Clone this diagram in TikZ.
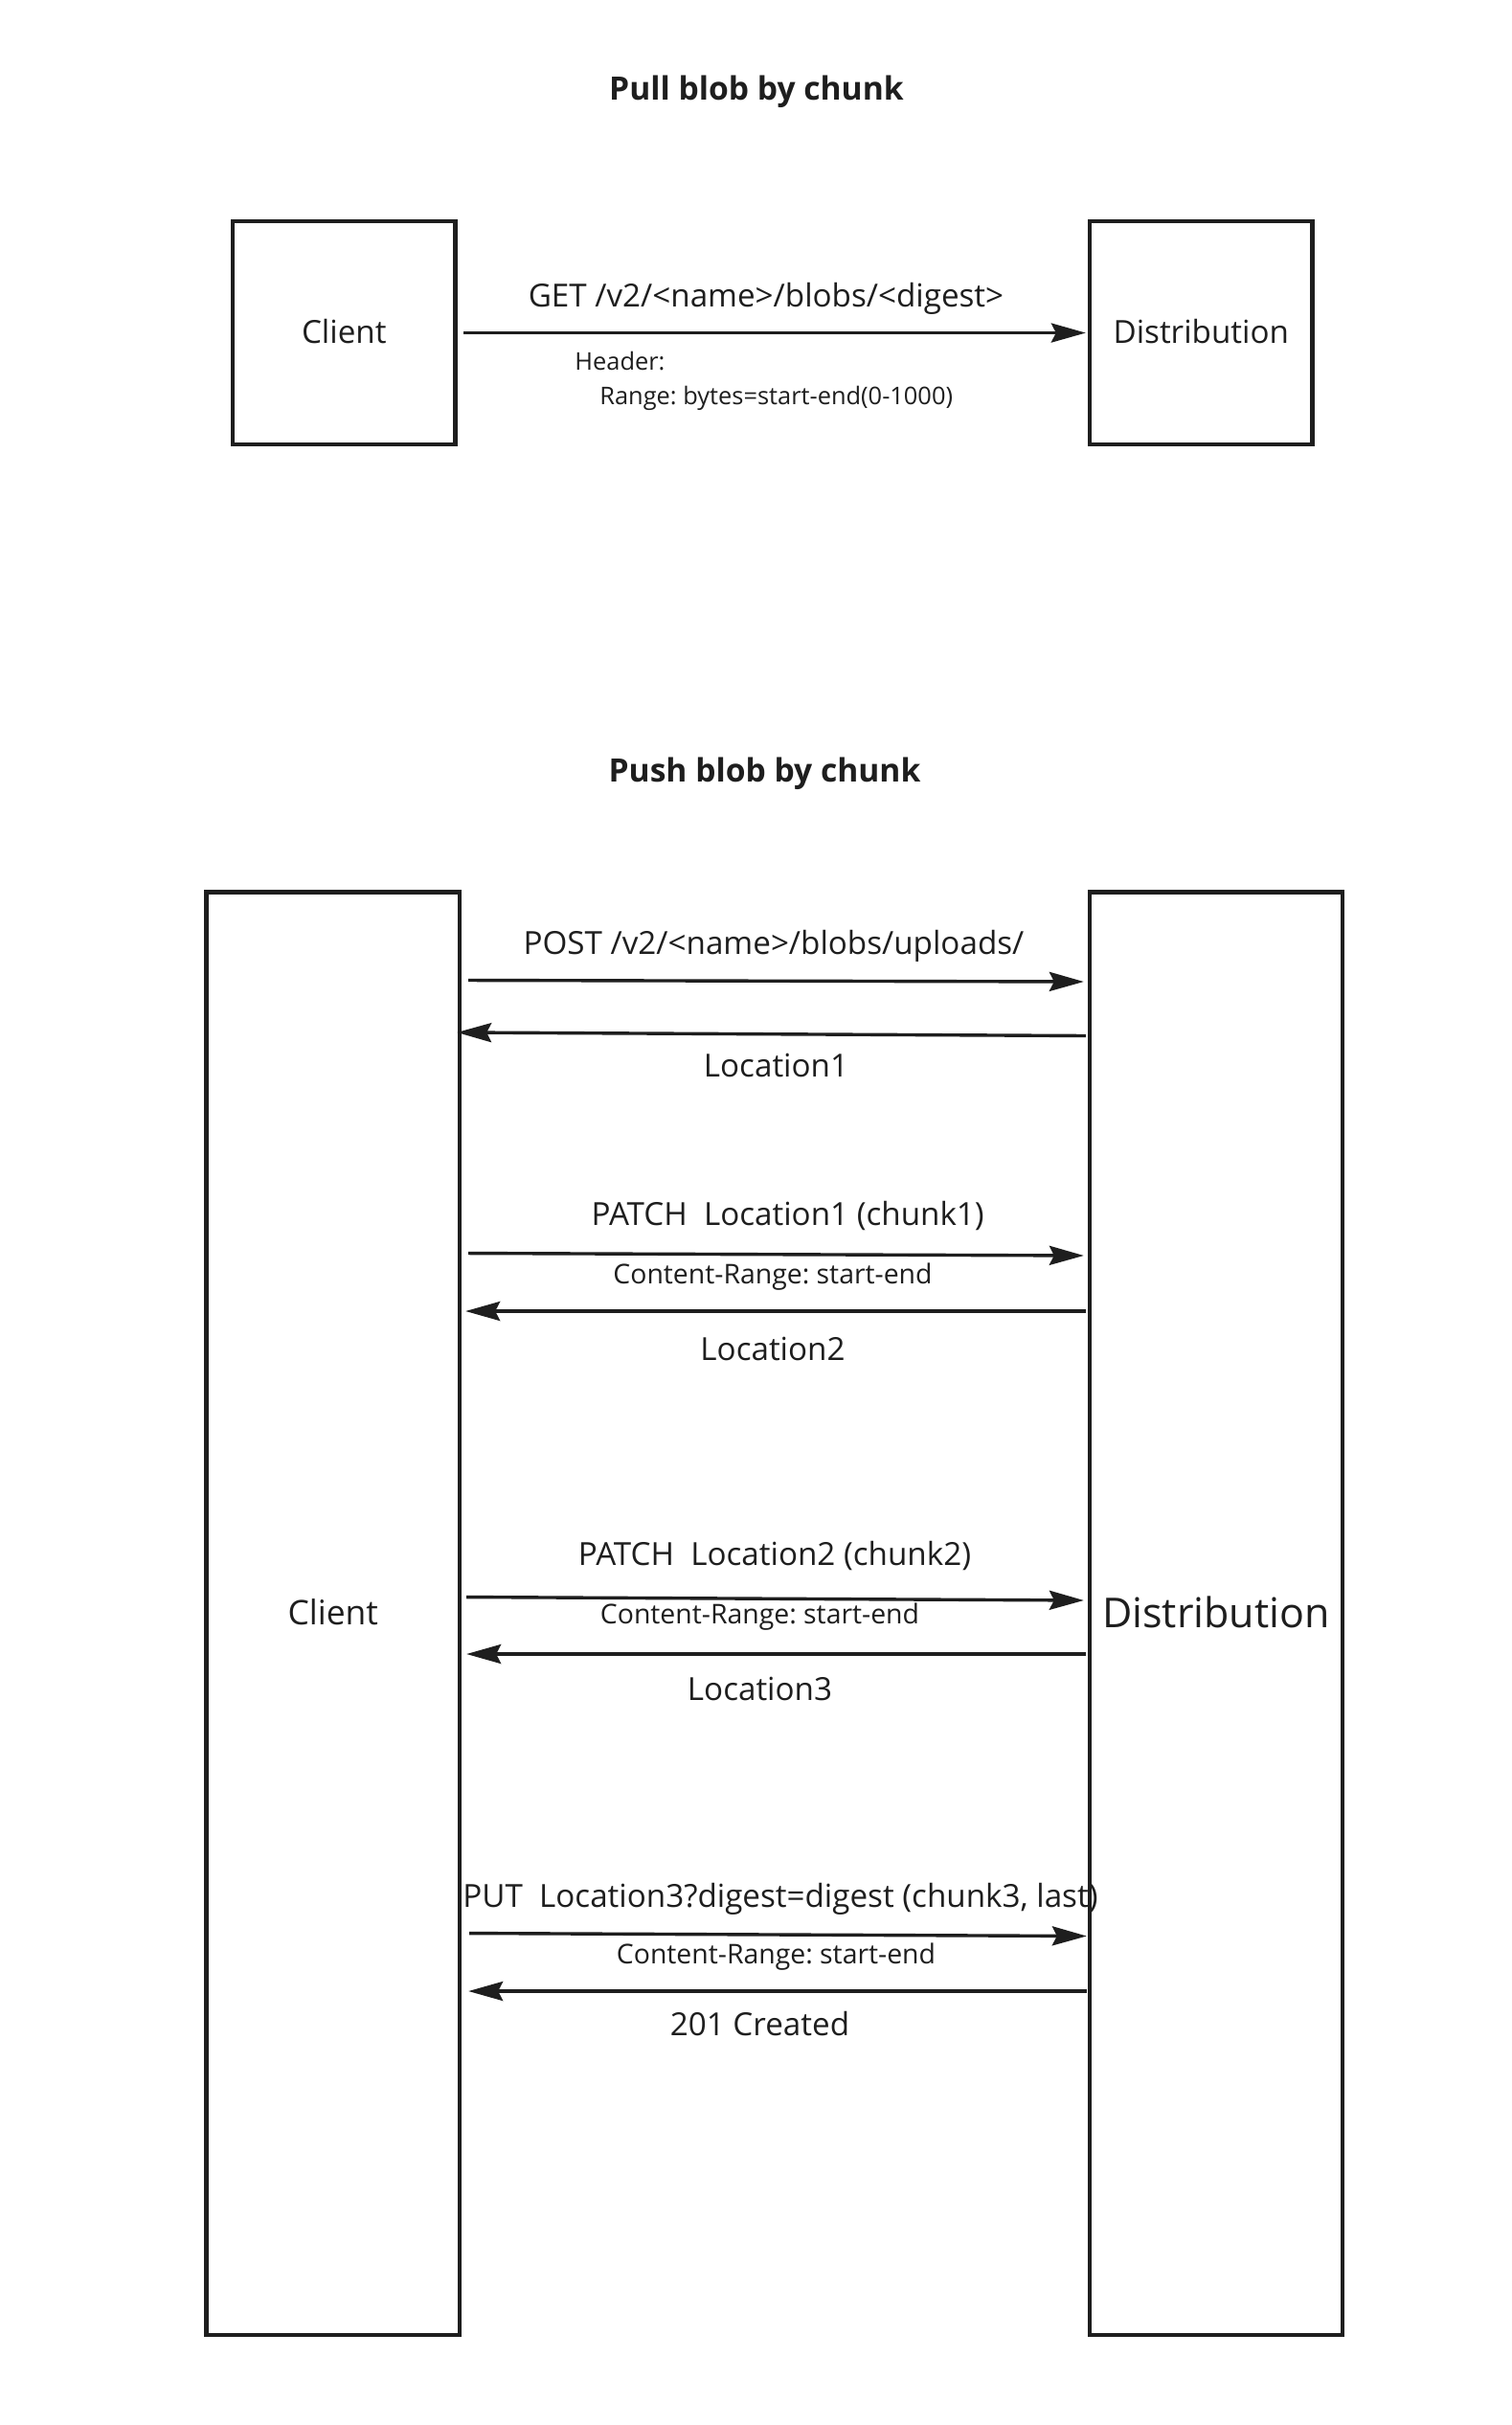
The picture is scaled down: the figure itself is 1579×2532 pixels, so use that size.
\documentclass[tikz,border=0pt]{standalone}
\usepackage{fontspec}
\setmainfont{Open Sans}
\usetikzlibrary{arrows.meta}
\definecolor{ink}{RGB}{30,30,30}
\frenchspacing
\begin{document}
\begin{tikzpicture}[x=0.5pt,y=-0.5pt,
  box/.style={draw=ink, line width=2.15pt, inner sep=0pt, text=ink, font=\fontsize{16.6pt}{19pt}\selectfont},
  arr/.style={draw=ink, line width=1.7pt, -{Stealth[length=18pt,width=10pt,inset=2.5pt]}},
  lbl/.style={text=ink, inner sep=0pt, anchor=base, font=\fontsize{16.6pt}{19pt}\selectfont},
  sml/.style={text=ink, inner sep=0pt, anchor=base, font=\fontsize{12.7pt}{15pt}\selectfont},
  crg/.style={text=ink, inner sep=0pt, anchor=base, font=\fontsize{14.2pt}{17pt}\selectfont},
  ttl/.style={text=ink, inner sep=0pt, anchor=base, font=\bfseries\fontsize{16.8pt}{20pt}\selectfont}]
\useasboundingbox[fill=white] (0,0) rectangle (1579,2532);

% titles
\node[ttl] (t1) at (790,104) {Pull blob by chunk};
\node[ttl] (t2) at (798.5,816.7) {Push blob by chunk};

% pull boxes
\node[box, minimum width=116.25pt, minimum height=116.25pt] (c1) at (359.25,347.55) {\raisebox{1.5pt}{Client}};
\node[box, minimum width=116.25pt, minimum height=116.25pt] (d1) at (1254.25,347.55) {\raisebox{1.5pt}{Distribution}};

\draw[arr, shorten <=3.25pt, shorten >=1pt] (c1.east) -- (d1.west);
\node[lbl] (l0) at (800,320) {GET /v2/<name>/blobs/<digest>};
\node[sml, anchor=base west] (h0) at (600,386.2) {Header:};
\node[sml, anchor=base west] (r0) at (626,422.5) {Range: bytes=start-end(0-1000)};

% push boxes
\node[box, minimum width=132.25pt, minimum height=753.05pt, font=\fontsize{17.7pt}{21pt}\selectfont] (c2) at (347.75,1684.65) {\raisebox{1.5pt}{Client}};
\node[box, minimum width=132pt, minimum height=753.05pt, font=\fontsize{21.5pt}{25pt}\selectfont] (d2) at (1270,1684.65) {\raisebox{1.5pt}{Distribution}};

% arrow levels
\coordinate (y1s) at (0,1023.5); \coordinate (y1e) at (0,1025);
\coordinate (y2s) at (0,1081.5); \coordinate (y2e) at (0,1078);
\coordinate (y3s) at (0,1308.5); \coordinate (y3e) at (0,1311);
\coordinate (y4)  at (0,1369);
\coordinate (y5s) at (0,1667.5); \coordinate (y5e) at (0,1671);
\coordinate (y6)  at (0,1727);
\coordinate (y7s) at (0,2018.5); \coordinate (y7e) at (0,2021.5);
\coordinate (y8)  at (0,2079);

\draw[arr, shorten <=3.5pt, shorten >=2pt] (c2.east |- y1s) -- (d2.west |- y1e);
\draw[arr, shorten <=1pt, shorten >=-2.5pt] (d2.west |- y2s) -- (c2.east |- y2e);
\draw[arr, shorten <=3.5pt, shorten >=2pt] (c2.east |- y3s) -- (d2.west |- y3e);
\draw[arr, shorten <=1pt, shorten >=2pt] (d2.west |- y4) -- (c2.east |- y4);
\draw[arr, shorten <=2.5pt, shorten >=2pt] (c2.east |- y5s) -- (d2.west |- y5e);
\draw[arr, shorten <=1pt, shorten >=2.5pt] (d2.west |- y6) -- (c2.east |- y6);
\draw[arr, shorten <=4pt, shorten >=0.5pt] (c2.east |- y7s) -- (d2.west |- y7e);
\draw[arr, shorten <=0.5pt, shorten >=3.5pt] (d2.west |- y8) -- (c2.east |- y8);

% labels
\node[lbl] (m1) at (808,996) {POST /v2/<name>/blobs/uploads/};
\node[lbl] (m2) at (810.5,1124) {Location1};
\node[lbl] (m3) at (822.7,1279) {PATCH\ \ Location1 (chunk1)};
\node[crg] (m3b) at (807,1340.5) {Content-Range: start-end};
\node[lbl] (m4) at (807,1420) {Location2};
\node[lbl] (m5) at (809,1634) {PATCH\ \ Location2 (chunk2)};
\node[crg] (m5b) at (793.5,1695.5) {Content-Range: start-end};
\node[lbl] (m6) at (793.5,1775) {Location3};
\node[lbl] (m7) at (815,1991) {PUT\ \ Location3?digest=digest (chunk3, last)};
\node[crg] (m7b) at (810.5,2050.5) {Content-Range: start-end};
\node[lbl] (m8) at (793.5,2125) {201 Created};
\end{tikzpicture}
\end{document}
